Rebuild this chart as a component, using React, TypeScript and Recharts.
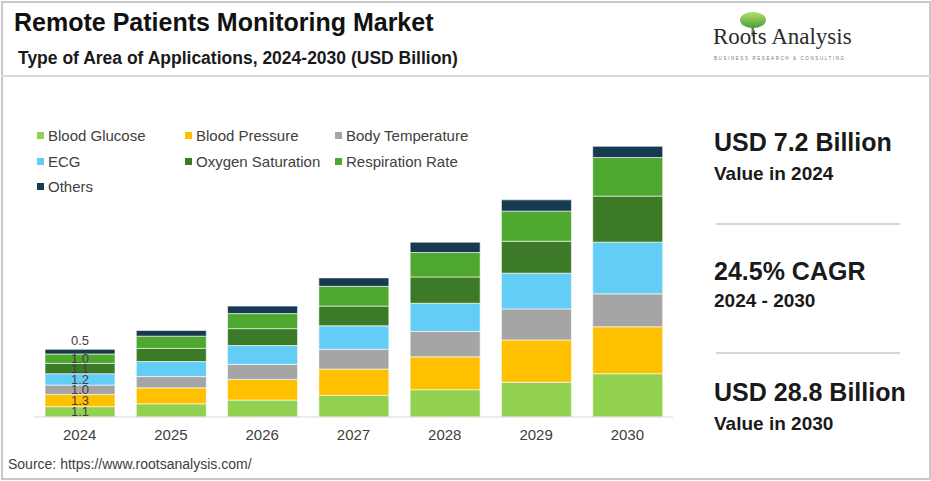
import { BarChart, Bar, XAxis, YAxis, LabelList } from "recharts";

const years = ["2024", "2025", "2026", "2027", "2028", "2029", "2030"];
const bloodGlucose = [1.1, 1.4, 1.8, 2.3, 2.9, 3.7, 4.6];
const bloodPressure = [1.3, 1.7, 2.2, 2.8, 3.5, 4.5, 5.0];
const bodyTemperature = [1.0, 1.2, 1.6, 2.1, 2.7, 3.3, 3.5];
const ecg = [1.2, 1.6, 2.0, 2.5, 3.0, 3.8, 5.5];
const oxygenSaturation = [1.1, 1.4, 1.8, 2.1, 2.8, 3.4, 4.9];
const respirationRate = [1.0, 1.3, 1.6, 2.1, 2.6, 3.2, 4.1];
const others = [0.5, 0.6, 0.8, 0.9, 1.1, 1.2, 1.2];

const seriesInfo = [
  { key: "bg", name: "Blood Glucose", color: "#92D050", values: bloodGlucose },
  { key: "bp", name: "Blood Pressure", color: "#FFC000", values: bloodPressure },
  { key: "bt", name: "Body Temperature", color: "#A5A5A5", values: bodyTemperature },
  { key: "ecg", name: "ECG", color: "#63CDF5", values: ecg },
  { key: "os", name: "Oxygen Saturation", color: "#3C7A27", values: oxygenSaturation },
  { key: "rr", name: "Respiration Rate", color: "#4EA72E", values: respirationRate },
  { key: "ot", name: "Others", color: "#163A50", values: others },
];

const data = years.map((year, i) => {
  const row: Record<string, string | number> = { year };
  seriesInfo.forEach((s) => (row[s.key] = s.values[i]));
  return row;
});

const font = "'Liberation Sans', Arial, sans-serif";
const textColor = "#404040";

// legend grid: 3 columns, row-major
const colX = [37, 185, 335];
const rowY = [127, 153, 178];

function LegendBox() {
  return (
    <>
      {seriesInfo.map((s, i) => (
        <div
          key={s.key}
          style={{
            position: "absolute",
            left: colX[i % 3],
            top: rowY[Math.floor(i / 3)],
            display: "flex",
            alignItems: "center",
            fontFamily: font,
            fontSize: 15,
            color: textColor,
            whiteSpace: "nowrap",
          }}
        >
          <span style={{ width: 7, height: 7, background: s.color, marginRight: 4, display: "inline-block" }} />
          {s.name}
        </div>
      ))}
    </>
  );
}

function firstLabel(pos: "center" | "top") {
  return (props: any) => {
    const { x, y, width, height, value, index } = props;
    if (index !== 0) return null;
    const cy = pos === "top" ? y - 9 : y + height / 2;
    return (
      <text
        x={x + width / 2}
        y={cy}
        textAnchor="middle"
        dominantBaseline="central"
        fontSize={13}
        fontFamily={font}
        fill={textColor}
      >
        {Number(value).toFixed(1)}
      </text>
    );
  };
}

function Logo() {
  return (
    <svg width={160} height={60} style={{ position: "absolute", left: 705, top: 8 }}>
      <defs>
        <linearGradient id="leaf" x1="0" y1="0" x2="0" y2="1">
          <stop offset="0%" stopColor="#b7dd6a" />
          <stop offset="100%" stopColor="#45a03a" />
        </linearGradient>
      </defs>
      <ellipse cx={48} cy={12} rx={13} ry={8} fill="url(#leaf)" />
      <rect x={46.5} y={18} width={2.5} height={10} fill="#6b8a4a" />
      <text x={8} y={36} fontFamily="'Liberation Serif', 'DejaVu Serif', serif" fontSize={23} fill="#2a2a2a">
        Roots Analysis
      </text>
      <text x={9} y={52} fontFamily={font} fontSize={4.5} letterSpacing={1.6} fill="#777">
        BUSINESS RESEARCH &amp; CONSULTING
      </text>
    </svg>
  );
}

const panelTitle = { fontFamily: font, fontWeight: 700, fontSize: 25, color: "#1a1a1a", position: "absolute" as const, left: 714 };
const panelSub = { fontFamily: font, fontWeight: 700, fontSize: 19, color: "#1a1a1a", position: "absolute" as const, left: 714 };
const sepLine = { position: "absolute" as const, left: 716, width: 184, height: 2, background: "#d6d6d6" };

export default function App() {
  return (
    <div style={{ position: "absolute", left: 0, top: 0, width: 931, height: 481, background: "#fff", overflow: "hidden" }}>
      <div style={{ position: "absolute", left: 1, top: 1, width: 926, height: 475, border: "2px solid #c9c9c9" }} />
      <div style={{ position: "absolute", left: 1, top: 75, width: 930, height: 2, background: "#d9d9d9" }} />
      <div style={{ position: "absolute", left: 14, top: 8, fontFamily: font, fontWeight: 700, fontSize: 25, color: "#111", whiteSpace: "nowrap" }}>
        Remote Patients Monitoring Market
      </div>
      <div style={{ position: "absolute", left: 18, top: 48, fontFamily: font, fontWeight: 700, fontSize: 17.5, color: "#1a1a1a", whiteSpace: "nowrap" }}>
        Type of Area of Applications, 2024-2030 (USD Billion)
      </div>
      <Logo />

      <div style={{ position: "absolute", left: 0, top: 0 }}>
        <BarChart width={700} height={450} data={data} margin={{ top: 135, right: 27, bottom: 0, left: 34 }}>
          <XAxis
            dataKey="year"
            height={33}
            tickLine={false}
            axisLine={{ stroke: "#d9d9d9" }}
            tickMargin={6}
            interval={0}
            tick={{ fontSize: 15, fill: textColor, fontFamily: font }}
          />
          <YAxis hide domain={[0, 30]} />
          {seriesInfo.map((s) => (
            <Bar
              key={s.key}
              dataKey={s.key}
              name={s.name}
              stackId="a"
              fill={s.color}
              stroke="#ffffff"
              strokeOpacity={0.6}
              strokeWidth={1}
              barSize={70}
              isAnimationActive={false}
            >
              <LabelList dataKey={s.key} content={firstLabel(s.key === "ot" ? "top" : "center")} />
            </Bar>
          ))}
        </BarChart>
      </div>
      <LegendBox />

      <div style={{ ...panelTitle, top: 128 }}>USD 7.2 Billion</div>
      <div style={{ ...panelSub, top: 163 }}>Value in 2024</div>
      <div style={{ ...sepLine, top: 223 }} />
      <div style={{ ...panelTitle, top: 257 }}>24.5% CAGR</div>
      <div style={{ ...panelSub, top: 290 }}>2024 - 2030</div>
      <div style={{ ...sepLine, top: 352 }} />
      <div style={{ ...panelTitle, top: 378 }}>USD 28.8 Billion</div>
      <div style={{ ...panelSub, top: 413 }}>Value in 2030</div>

      <div style={{ position: "absolute", left: 8, top: 456, fontFamily: font, fontSize: 14, color: textColor, whiteSpace: "nowrap" }}>
        Source: https://www.rootsanalysis.com/
      </div>
    </div>
  );
}
